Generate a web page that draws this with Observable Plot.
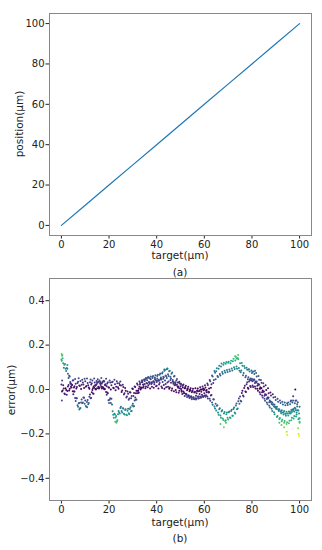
<!DOCTYPE html>
<html><head><meta charset="utf-8">
<script src="https://cdn.jsdelivr.net/npm/d3@7"></script>
<script src="https://cdn.jsdelivr.net/npm/@observablehq/plot@0.6"></script>
<style>
body{margin:0;background:#fff;font-family:"DejaVu Sans",sans-serif;}
#wrap{position:relative;width:322px;height:550px;overflow:hidden;background:#fff;}
#wrap svg{position:absolute;left:0;}
#wrap svg text{font-family:"DejaVu Sans",sans-serif !important;font-size:10px !important;fill:#222;}
.lbl{position:absolute;font-size:10.5px;color:#222;white-space:nowrap;line-height:1;transform:translate(-50%,-50%);}
.rot{transform:translate(-50%,-50%) rotate(-90deg);}
</style></head><body><div id="wrap"></div>
<script>
// ---- panel (a): position vs target ----
const lineTarget = [0,10,20,30,40,50,60,70,80,90,100];
const linePosition = [0,10,20,30,40,50,60,70,80,90,100];
const xTicks = [0,20,40,60,80,100];
const yTicksA = [0,20,40,60,80,100];
const yTicksB = [-0.4,-0.2,0,0.2,0.4];

const targetHalf = [
0,0.5,1,1.5,2,2.5,3,3.5,4,4.5,
5,5.5,6,6.5,7,7.5,8,8.5,9,9.5,
10,10.5,11,11.5,12,12.5,13,13.5,14,14.5,
15,15.5,16,16.5,17,17.5,18,18.5,19,19.5,
20,20.5,21,21.5,22,22.5,23,23.5,24,24.5,
25,25.5,26,26.5,27,27.5,28,28.5,29,29.5,
30,30.5,31,31.5,32,32.5,33,33.5,34,34.5,
35,35.5,36,36.5,37,37.5,38,38.5,39,39.5,
40,40.5,41,41.5,42,42.5,43,43.5,44,44.5,
45,45.5,46,46.5,47,47.5,48,48.5,49,49.5,
50,50.5,51,51.5,52,52.5,53,53.5,54,54.5,
55,55.5,56,56.5,57,57.5,58,58.5,59,59.5,
60,60.5,61,61.5,62,62.5,63,63.5,64,64.5,
65,65.5,66,66.5,67,67.5,68,68.5,69,69.5,
70,70.5,71,71.5,72,72.5,73,73.5,74,74.5,
75,75.5,76,76.5,77,77.5,78,78.5,79,79.5,
80,80.5,81,81.5,82,82.5,83,83.5,84,84.5,
85,85.5,86,86.5,87,87.5,88,88.5,89,89.5,
90,90.5,91,91.5,92,92.5,93,93.5,94,94.5,
95,95.5,96,96.5,97,97.5,98,98.5,99,99.5,
100];
const targetQuarter = [
0.25,0.75,1.25,1.75,2.25,2.75,3.25,3.75,4.25,4.75,
5.25,5.75,6.25,6.75,7.25,7.75,8.25,8.75,9.25,9.75,
10.25,10.75,11.25,11.75,12.25,12.75,13.25,13.75,14.25,14.75,
15.25,15.75,16.25,16.75,17.25,17.75,18.25,18.75,19.25,19.75,
20.25,20.75,21.25,21.75,22.25,22.75,23.25,23.75,24.25,24.75,
25.25,25.75,26.25,26.75,27.25,27.75,28.25,28.75,29.25,29.75,
30.25,30.75,31.25,31.75,32.25,32.75,33.25,33.75,34.25,34.75,
35.25,35.75,36.25,36.75,37.25,37.75,38.25,38.75,39.25,39.75,
40.25,40.75,41.25,41.75,42.25,42.75,43.25,43.75,44.25,44.75,
45.25,45.75,46.25,46.75,47.25,47.75,48.25,48.75,49.25,49.75,
50.25,50.75,51.25,51.75,52.25,52.75,53.25,53.75,54.25,54.75,
55.25,55.75,56.25,56.75,57.25,57.75,58.25,58.75,59.25,59.75,
60.25,60.75,61.25,61.75,62.25,62.75,63.25,63.75,64.25,64.75,
65.25,65.75,66.25,66.75,67.25,67.75,68.25,68.75,69.25,69.75,
70.25,70.75,71.25,71.75,72.25,72.75,73.25,73.75,74.25,74.75,
75.25,75.75,76.25,76.75,77.25,77.75,78.25,78.75,79.25,79.75,
80.25,80.75,81.25,81.75,82.25,82.75,83.25,83.75,84.25,84.75,
85.25,85.75,86.25,86.75,87.25,87.75,88.25,88.75,89.25,89.75,
90.25,90.75,91.25,91.75,92.25,92.75,93.25,93.75,94.25,94.75,
95.25,95.75,96.25,96.75,97.25,97.75,98.25,98.75,99.25,99.75];

// pass A (main band) at targetHalf
const errorA = [
0.022,-0.004,0.004,-0.021,-0.002,-0.007,0.020,0.003,0.026,0.020,
0.042,0.015,0.026,0.011,0.035,0.018,0.038,0.021,0.032,0.007,
0.037,0.016,0.029,0.009,0.033,0.023,0.040,0.013,0.031,0.020,
0.030,0.012,0.041,0.020,0.027,0.009,0.036,0.024,0.015,0.033,
0.008,0.031,0.019,0.035,0.006,0.024,0.012,0.028,0.003,0.020,
0.018,-0.004,0.011,-0.017,-0.006,-0.031,-0.019,-0.041,-0.014,-0.029,
0.002,-0.016,0.011,-0.006,0.021,0.003,0.029,0.009,0.034,0.013,
0.038,0.014,0.042,0.019,0.031,0.046,0.012,0.036,0.024,0.044,
0.017,0.039,0.022,0.045,0.013,0.034,0.020,0.041,0.010,0.031,
0.036,0.009,0.030,0.004,0.026,0.019,-0.002,0.021,0.014,-0.006,
0.015,-0.010,0.009,-0.016,0.006,-0.021,0.002,-0.027,-0.004,-0.030,
-0.006,-0.035,-0.011,-0.028,-0.004,-0.031,-0.020,0.000,-0.024,0.004,
-0.017,0.009,-0.012,0.020,0.004,0.037,0.024,0.058,0.043,0.075,
0.082,0.061,0.094,0.070,0.104,0.079,0.112,0.085,0.116,0.088,
0.121,0.090,0.118,0.095,0.127,0.100,0.131,0.104,0.142,0.097,
0.118,0.086,0.107,0.074,0.097,0.062,0.089,0.055,0.081,0.050,
0.074,0.045,0.070,0.036,0.058,0.026,0.044,0.010,0.030,-0.005,
0.014,-0.021,-0.002,-0.036,-0.017,-0.049,-0.027,-0.058,-0.036,-0.069,
-0.047,-0.078,-0.055,-0.089,-0.061,-0.094,-0.068,-0.097,-0.071,-0.100,
-0.070,-0.099,-0.066,-0.092,-0.058,-0.088,-0.062,-0.094,-0.067,-0.095,
-0.078];
// pass A, second sweep at targetQuarter
const errorA2 = [
-0.009,0.019,-0.018,0.006,-0.024,0.013,-0.004,0.034,0.009,0.041,
0.009,0.047,0.004,0.029,0.051,0.016,0.002,0.044,0.023,0.048,
0.012,0.050,0.019,0.003,0.045,0.028,0.006,0.049,0.017,0.038,
0.046,0.005,0.034,0.052,0.011,0.039,0.002,0.048,0.027,0.010,
0.041,0.000,0.033,0.008,0.044,-0.003,0.037,0.010,0.028,0.036,
-0.011,0.021,-0.023,0.007,-0.036,-0.009,-0.046,-0.012,-0.039,0.004,
-0.029,0.014,-0.017,0.027,-0.006,0.036,0.000,0.041,0.008,0.045,
0.006,0.049,0.010,0.053,0.004,0.025,0.052,0.008,0.047,0.015,
0.050,0.005,0.029,0.054,0.007,0.048,0.003,0.025,0.052,0.012,
0.003,0.043,-0.004,0.036,-0.008,0.033,-0.012,0.031,-0.015,0.027,
0.025,-0.020,0.022,-0.029,0.017,-0.034,0.012,-0.038,0.006,-0.044,
0.003,-0.044,0.006,-0.041,0.004,-0.039,0.010,-0.035,0.014,-0.030,
0.019,-0.026,0.027,-0.010,0.043,0.008,0.063,0.029,0.083,0.046,
0.096,0.056,0.107,0.063,0.117,0.071,0.121,0.077,0.124,0.079,
0.125,0.082,0.130,0.086,0.138,0.092,0.148,0.093,0.136,0.085,
0.078,0.119,0.064,0.106,0.055,0.098,0.046,0.091,0.042,0.086,
0.037,0.081,0.029,0.074,0.017,0.061,0.003,0.043,-0.012,0.028,
-0.028,0.019,-0.043,0.006,-0.057,-0.013,-0.065,-0.021,-0.077,-0.034,
-0.085,-0.042,-0.094,-0.050,-0.100,-0.055,-0.104,-0.058,-0.109,-0.062,
-0.059,-0.107,-0.054,-0.101,-0.050,-0.099,-0.051,-0.104,-0.057,-0.108];
// pass B (second band) at targetQuarter
const errorB = [
0.152,0.118,0.112,0.094,0.097,0.071,0.062,0.028,0.021,-0.008,
-0.009,-0.038,-0.039,-0.071,-0.062,-0.086,-0.058,-0.061,-0.036,-0.064,
-0.074,-0.056,-0.066,-0.033,-0.039,-0.012,-0.018,0.008,0.002,0.024,
0.031,0.008,0.027,0.012,0.034,0.006,0.020,-0.011,-0.013,-0.048,
-0.046,-0.061,-0.068,-0.114,-0.109,-0.126,-0.143,-0.111,-0.104,-0.083,
-0.097,-0.085,-0.109,-0.092,-0.114,-0.096,-0.107,-0.088,-0.098,-0.072,
-0.077,-0.049,-0.046,-0.017,-0.016,0.012,0.008,0.033,0.022,0.044,
0.046,0.029,0.053,0.034,0.050,0.033,0.057,0.037,0.054,0.040,
0.061,0.043,0.066,0.049,0.072,0.057,0.084,0.063,0.091,0.069,
0.082,0.057,0.071,0.043,0.058,0.026,0.041,0.014,0.031,0.006,
0.002,0.017,-0.009,0.006,-0.019,-0.003,-0.027,-0.008,-0.033,-0.012,
-0.036,-0.013,-0.039,-0.017,-0.033,-0.008,-0.031,-0.010,-0.029,-0.003,
-0.027,-0.006,-0.031,-0.014,-0.042,-0.027,-0.058,-0.044,-0.077,-0.064,
-0.073,-0.104,-0.089,-0.117,-0.098,-0.131,-0.108,-0.142,-0.111,-0.127,
-0.103,-0.126,-0.097,-0.118,-0.088,-0.104,-0.072,-0.089,-0.053,-0.064,
-0.051,-0.016,-0.027,0.007,-0.009,0.024,0.008,0.036,0.016,0.041,
0.018,0.042,0.013,0.031,0.003,0.020,-0.012,0.004,-0.027,-0.010,
-0.042,-0.024,-0.058,-0.040,-0.073,-0.055,-0.087,-0.069,-0.103,-0.081,
-0.088,-0.119,-0.097,-0.128,-0.107,-0.136,-0.113,-0.142,-0.118,-0.147,
-0.117,-0.141,-0.108,-0.127,-0.096,-0.119,-0.087,-0.113,-0.094,-0.131];
// pass B, second sweep at targetHalf
const errorB2 = [
0.135,0.141,0.098,0.115,0.083,0.094,0.052,0.058,0.012,0.021,
-0.021,-0.009,-0.052,-0.039,-0.078,-0.061,-0.083,-0.045,-0.059,-0.037,
-0.049,-0.078,-0.047,-0.061,-0.022,-0.038,-0.002,-0.019,0.018,0.000,
0.006,0.035,0.009,0.032,0.005,0.036,0.001,0.019,-0.024,-0.017,
-0.061,-0.039,-0.042,-0.098,-0.127,-0.113,-0.119,-0.139,-0.097,-0.108,
-0.078,-0.104,-0.086,-0.113,-0.089,-0.116,-0.087,-0.111,-0.080,-0.097,
-0.064,-0.074,-0.036,-0.045,-0.006,-0.014,0.022,0.007,0.041,0.021,
0.025,0.052,0.027,0.056,0.026,0.058,0.029,0.061,0.031,0.064,
0.034,0.067,0.039,0.072,0.045,0.078,0.055,0.089,0.060,0.093,
0.061,0.084,0.049,0.077,0.034,0.061,0.021,0.047,0.008,0.035,
0.026,-0.006,0.019,-0.017,0.011,-0.024,0.004,-0.032,-0.001,-0.037,
-0.007,-0.042,-0.010,-0.045,-0.008,-0.040,-0.004,-0.037,0.000,-0.034,
0.001,-0.033,-0.002,-0.041,-0.012,-0.051,-0.025,-0.069,-0.045,-0.086,
-0.095,-0.071,-0.114,-0.085,-0.127,-0.094,-0.137,-0.101,-0.139,-0.104,
-0.135,-0.099,-0.128,-0.091,-0.118,-0.081,-0.108,-0.063,-0.086,-0.041,
-0.031,-0.054,-0.006,-0.031,0.017,-0.011,0.033,0.003,0.045,0.011,
0.047,0.011,0.045,0.004,0.036,-0.006,0.023,-0.021,0.007,-0.036,
-0.009,-0.051,-0.024,-0.067,-0.036,-0.081,-0.055,-0.097,-0.067,-0.111,
-0.079,-0.124,-0.089,-0.133,-0.098,-0.143,-0.104,-0.150,-0.109,-0.155,
-0.108,-0.152,-0.101,-0.139,-0.090,-0.131,-0.082,-0.122,-0.077,-0.134,
-0.145];
// isolated points
const targetExtra = [0.1,0.2,0.3,0.15,0.4,2.5,7.5,10.8,22.6,23.1,44.5,43.2,66.8,68.2,69.1,72.9,74.2,73.5,81.3,80.2,94.6,94.8,93.5,99.4,99.6,99.8,98.2,97.3,96.4,100,100,78.5,98.6,91.5,92.4];
const errorExtra = [0.16,-0.05,0.04,0.13,0.155,0.11,-0.09,-0.08,-0.145,-0.15,0.095,0.09,-0.155,-0.17,-0.15,0.15,0.155,0.14,0.085,0.08,-0.19,-0.205,-0.17,-0.175,-0.2,-0.21,0.0,-0.03,-0.05,-0.15,-0.13,0.09,-0.05,-0.15,-0.16];

const lineData = lineTarget.map((t,i)=>({target:t, position:linePosition[i]}));
const pts = [];
targetHalf.forEach((t,i)=>pts.push({target:t, error:errorA[i]}));
targetQuarter.forEach((t,i)=>pts.push({target:t, error:errorA2[i]}));
targetQuarter.forEach((t,i)=>pts.push({target:t, error:errorB[i]}));
targetHalf.forEach((t,i)=>pts.push({target:t, error:errorB2[i]}));
targetExtra.forEach((t,i)=>pts.push({target:t, error:errorExtra[i]}));

const common = {
  width:322, height:263, marginTop:13, marginRight:11, marginBottom:28, marginLeft:49,
  style:{fontFamily:"DejaVu Sans, sans-serif", fontSize:"10px", color:"#222", background:"white", overflow:"visible"}
};

const chartA = Plot.plot({
  ...common,
  x:{domain:[-5,105], ticks:xTicks, label:null, tickSize:3.5, tickPadding:1.5},
  y:{domain:[-5,105], ticks:yTicksA, label:null, tickSize:3.5, tickPadding:1.5},
  marks:[
    Plot.line(lineData,{x:"target", y:"position", stroke:"#1f77b4", strokeWidth:1.2}),
    Plot.frame({stroke:"#888"})
  ]
});
const chartB = Plot.plot({
  ...common,
  x:{domain:[-5,105], ticks:xTicks, label:null, tickSize:3.5, tickPadding:1.5},
  y:{domain:[-0.5,0.5], ticks:yTicksB, tickFormat:d3.format(".1f"), label:null, tickSize:3.5, tickPadding:1.5},
  color:{type:"linear", scheme:"viridis", domain:[0,0.21]},
  marks:[
    Plot.dot(pts,{x:"target", y:"error", fill:d=>Math.abs(d.error), r:1, stroke:null}),
    Plot.frame({stroke:"#888"})
  ]
});
const wrap = document.getElementById("wrap");
chartA.style.top = "0px";
chartB.style.top = "265px";
wrap.appendChild(chartA);
wrap.appendChild(chartB);
function lbl(text,x,y,rot){
  const d=document.createElement("div");
  d.className="lbl"+(rot?" rot":"");
  d.textContent=text; d.style.left=x+"px"; d.style.top=y+"px";
  wrap.appendChild(d);
}
lbl("position(μm)",19,124,true);
lbl("target(μm)",180,255);
lbl("(a)",180,272);
lbl("error(μm)",11,390,true);
lbl("target(μm)",180,522);
lbl("(b)",180,538);
</script></body></html>
